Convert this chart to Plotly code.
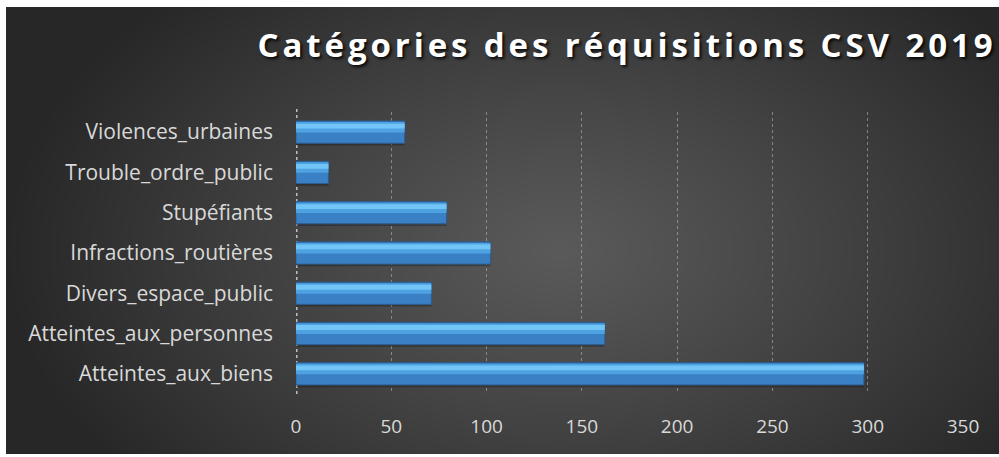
import base64, zlib, struct
import numpy as np
import plotly.graph_objects as go

# ---------------- data ----------------
categories = ["Atteintes_aux_biens", "Atteintes_aux_personnes", "Divers_espace_public",
              "Infractions_routières", "Stupéfiants", "Trouble_ordre_public", "Violences_urbaines"]
values = [298, 162, 71, 102, 79, 17, 57]
tick_values = [0, 50, 100, 150, 200, 250, 300, 350]
tick_labels = ["0", "50", "100", "150", "200", "250", "300", "350"]
title_text = "Catégories des réquisitions CSV 2019"

W, H = 999, 457
ML, MR, MT, MB = 296, 36, 112, 63
PW, PH = W - ML - MR, H - MT - MB

# ---------------- background (radial gradient PNG) ----------------
def make_bg():
    yy, xx = np.mgrid[0:H, 0:W].astype(float)
    r = np.sqrt(((xx - 560) / 560.0) ** 2 + ((yy - 250) / 360.0) ** 2)
    r = np.clip(r, 0, 1)
    c = 0x5a - (0x5a - 0x27) * r ** 1.1
    img = np.stack([c, c, c], axis=-1).astype(np.uint8)
    img[:7, :, :] = 255
    img[:, :6, :] = 255
    img[454:, :, :] = 255
    raw = b"".join(b"\x00" + img[i].tobytes() for i in range(H))
    def chunk(t, d):
        return struct.pack(">I", len(d)) + t + d + struct.pack(">I", zlib.crc32(t + d) & 0xffffffff)
    png = b"\x89PNG\r\n\x1a\n" + chunk(b"IHDR", struct.pack(">IIBBBBB", W, H, 8, 2, 0, 0, 0)) \
        + chunk(b"IDAT", zlib.compress(raw, 9)) + chunk(b"IEND", b"")
    return "data:image/png;base64," + base64.b64encode(png).decode()

fig = go.Figure()

# shadow under bars
fig.add_trace(go.Bar(
    y=categories, x=values, orientation="h", width=0.06, offset=-0.33,
    marker=dict(color="rgba(0,0,0,0.25)", line=dict(width=0)), hoverinfo="skip",
))
# base bar
fig.add_trace(go.Bar(
    y=categories, x=values, orientation="h", width=0.55, offset=-0.275,
    marker=dict(color="#3a80c4", line=dict(color="#2b5e93", width=1)),
    hovertemplate="%{y}: %{x}<extra></extra>",
))
# mid band
fig.add_trace(go.Bar(
    y=categories, x=values, orientation="h", width=0.26, offset=-0.01,
    marker=dict(color="#4fa2e2", line=dict(width=0)), hoverinfo="skip",
))
# light band
fig.add_trace(go.Bar(
    y=categories, x=values, orientation="h", width=0.12, offset=0.09,
    marker=dict(color="#72c5f7", line=dict(width=0)), hoverinfo="skip",
))

fig.update_layout(
    width=W, height=H, barmode="overlay", showlegend=False,
    margin=dict(l=ML, r=MR, t=MT, b=MB, pad=0),
    paper_bgcolor="#3a3a3a", plot_bgcolor="rgba(0,0,0,0)",
    title=dict(text=title_text, x=627 / W, y=1 - 45 / H, xref="container", yref="container",
               xanchor="center", yanchor="middle",
               font=dict(family="Open Sans", size=33, color="#ffffff", weight="bold",
                         shadow="2px 2px 3px rgba(0,0,0,0.85)")),
    images=[dict(source=make_bg(), xref="paper", yref="paper",
                 x=-ML / PW, y=1 + MT / PH, sizex=W / PW, sizey=H / PH,
                 xanchor="left", yanchor="top", sizing="stretch", layer="below")],
    xaxis=dict(range=[0, 350], tickvals=tick_values, ticktext=tick_labels,
               showgrid=True, gridcolor="rgba(200,200,200,0.5)", griddash="dot", gridwidth=1,
               zeroline=False, showline=False, ticks="", ticklabelstandoff=19,
               tickfont=dict(family="Open Sans", size=19, color="#d9d9d9")),
    yaxis=dict(categoryorder="array", categoryarray=categories, showgrid=False,
               zeroline=False, showline=False, ticks="", ticklabelstandoff=22,
               tickfont=dict(family="Open Sans", size=21, color="#d9d9d9")),
    shapes=[dict(type="line", xref="x", yref="paper", x0=0, x1=0, y0=0, y1=1.02,
                 line=dict(color="#bfbfbf", width=3, dash="dot"), layer="below")],
)

post = """
document.body.style.margin='0';
document.body.style.overflow='hidden';
var t=document.querySelectorAll('.gtitle');
t.forEach(function(e){e.style.letterSpacing='3.9px';});
"""
fig.write_html("out.html", post_script=post, config={"displayModeBar": False})
